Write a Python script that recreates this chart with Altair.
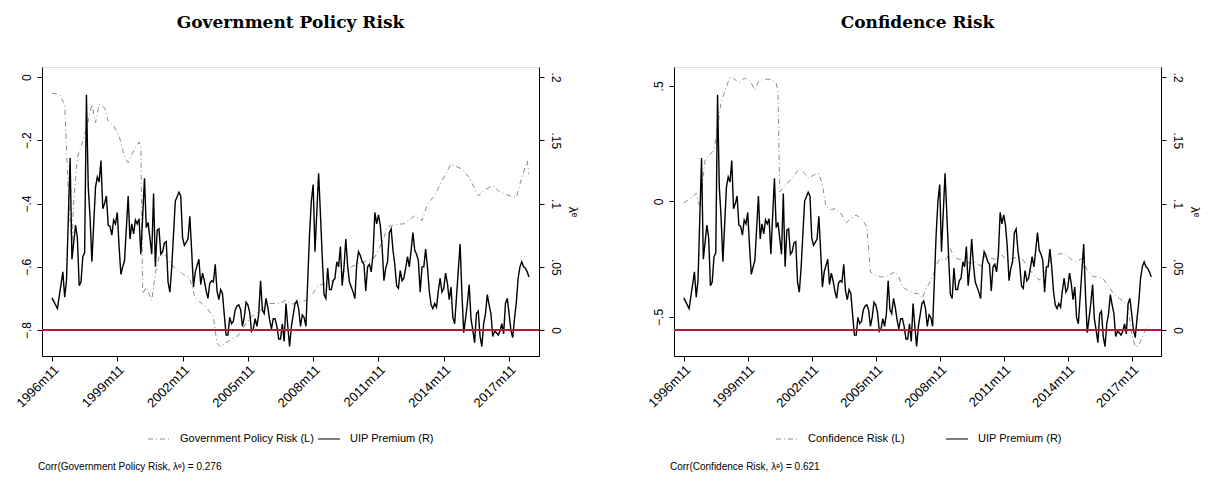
import altair as alt
import pandas as pd

# month offsets from 1996m11 and UIP premium (right axis)
uip_m = [0, 3, 6, 7, 8, 10, 11, 13, 14, 15, 16, 17, 18, 19, 20, 21, 22, 24, 25, 26, 27, 28, 29, 30,
         31, 32, 33, 34, 35, 36, 37, 38, 39, 40, 42, 43, 44, 45, 46, 47, 48, 49, 51, 52, 53, 55, 56,
         57, 58, 59, 60, 61, 62, 63, 64, 65, 66, 68, 70, 71, 72, 73, 75, 76, 77, 78, 79, 81, 82, 83,
         84, 85, 86, 87, 88, 89, 90, 91, 92, 93, 94, 95, 96, 97, 98, 99, 100, 101, 102, 103, 104,
         105, 106, 107, 108, 109, 110, 111, 112, 113, 114, 115, 116, 117, 118, 119, 120, 121, 122,
         123, 124, 125, 126, 127, 128, 129, 130, 131, 132, 133, 134, 135, 136, 137, 138, 139, 140,
         141, 142, 143, 144, 145, 147, 148, 149, 150, 151, 152, 153, 154, 155, 156, 157, 158, 159,
         160, 161, 162, 163, 164, 165, 166, 167, 168, 169, 170, 171, 172, 173, 174, 175, 176, 177,
         178, 179, 180, 181, 182, 183, 184, 185, 186, 187, 188, 189, 190, 191, 192, 193, 194, 195,
         196, 197, 198, 199, 200, 201, 202, 203, 204, 205, 206, 207, 208, 209, 210, 211, 212, 213,
         214, 215, 216, 217, 218, 219, 220, 221, 222, 223, 224, 225, 226, 227, 228, 229, 230, 231,
         232, 233, 234, 235, 236, 237, 238, 239, 240, 241, 242, 243, 244, 245, 246, 247, 248, 249,
         250, 251, 252, 253, 254, 255, 256, 257, 258, 259, 260, 261, 262, 263]
uip_v = [0.0255, 0.017, 0.046, 0.026, 0.039, 0.136, 0.056, 0.083, 0.073, 0.035, 0.038, 0.058, 0.061,
         0.186, 0.113, 0.089, 0.054, 0.113, 0.121, 0.117, 0.134, 0.096, 0.100, 0.106, 0.083, 0.082,
         0.075, 0.087, 0.084, 0.093, 0.066, 0.044, 0.050, 0.055, 0.106, 0.072, 0.084, 0.076, 0.087,
         0.084, 0.088, 0.060, 0.120, 0.081, 0.085, 0.060, 0.108, 0.050, 0.079, 0.080, 0.060, 0.062,
         0.069, 0.070, 0.038, 0.030, 0.049, 0.102, 0.109, 0.106, 0.073, 0.067, 0.072, 0.090, 0.063,
         0.034, 0.046, 0.056, 0.036, 0.045, 0.039, 0.031, 0.025, 0.037, 0.039, 0.038, 0.052, 0.031,
         0.024, 0.032, 0.029, 0.012, -0.004, -0.004, 0.010, 0.005, 0.007, 0.016, 0.019, 0.020, 0.016,
         0.003, 0.010, 0.022, 0.020, 0.014, -0.001, 0.001, 0.009, 0.003, 0.013, 0.039, 0.016, 0.013,
         0.025, 0.018, 0.008, 0.001, 0.009, 0.009, 0.003, -0.007, -0.007, 0.005, -0.009, 0.021,
         0.003, -0.013, 0.003, 0.012, 0.021, 0.023, 0.017, 0.003, 0.012, 0.010, 0.003, 0.039, 0.076,
         0.102, 0.115, 0.062, 0.124, 0.092, 0.058, 0.028, 0.025, 0.049, 0.032, 0.032, 0.039, 0.041,
         0.054, 0.050, 0.066, 0.035, 0.050, 0.072, 0.051, 0.038, 0.034, 0.030, 0.025, 0.052, 0.062,
         0.059, 0.054, 0.052, 0.031, 0.050, 0.052, 0.046, 0.060, 0.093, 0.084, 0.091, 0.083, 0.066,
         0.039, 0.049, 0.054, 0.077, 0.080, 0.063, 0.052, 0.035, 0.033, 0.047, 0.039, 0.041, 0.049,
         0.058, 0.050, 0.063, 0.077, 0.063, 0.060, 0.055, 0.030, 0.050, 0.050, 0.064, 0.050, 0.031,
         0.020, 0.017, 0.021, 0.018, 0.031, 0.041, 0.030, 0.033, 0.045, 0.037, 0.024, 0.034, 0.010,
         0.005, 0.026, 0.047, 0.068, 0.029, -0.002, 0.009, 0.021, 0.036, 0.009, 0.000, -0.010, 0.013,
         0.015, -0.005, -0.013, 0.005, 0.013, 0.028, 0.020, 0.013, -0.005, -0.001, -0.002, -0.004,
         -0.001, 0.005, -0.003, 0.021, 0.025, 0.013, 0.000, -0.006, 0.009, 0.022, 0.041, 0.050,
         0.054, 0.050, 0.049, 0.046, 0.042]

# Government Policy Risk (left axis, left panel)
gpr_m = [0, 4, 7, 9, 11, 12, 14, 17, 20, 22, 24, 26, 29, 31, 34, 37, 40, 42, 45, 48, 49, 50, 52, 55,
         57, 59, 62, 67, 72, 76, 79, 85, 89, 91, 93, 98, 103, 107, 110, 114, 120, 125, 129, 132,
         136, 140, 143, 147, 152, 158, 163, 169, 174, 178, 182, 185, 189, 194, 200, 204, 207, 211,
         215, 220, 226, 230, 235, 238, 243, 247, 252, 256, 258, 262, 263]
gpr_v = [-0.051, -0.055, -0.086, -0.37, -0.538, -0.39, -0.254, -0.202, -0.139, -0.086, -0.144,
         -0.086, -0.097, -0.139, -0.154, -0.186, -0.254, -0.27, -0.233, -0.205, -0.223, -0.685,
         -0.664, -0.706, -0.622, -0.569, -0.559, -0.60, -0.622, -0.637, -0.70, -0.727, -0.758,
         -0.842, -0.853, -0.832, -0.816, -0.779, -0.758, -0.742, -0.716, -0.716, -0.706, -0.718,
         -0.714, -0.706, -0.69, -0.658, -0.653, -0.632, -0.606, -0.59, -0.58, -0.569, -0.522,
         -0.475, -0.466, -0.464, -0.438, -0.454, -0.401, -0.375, -0.328, -0.275, -0.291, -0.317,
         -0.375, -0.359, -0.343, -0.364, -0.375, -0.38, -0.338, -0.265, -0.307]

# Confidence Risk (left axis, right panel)
cr_m = [0, 5, 7, 9, 12, 14, 17, 19, 21, 24, 26, 28, 31, 34, 37, 40, 42, 45, 49, 52, 53, 54, 57, 60,
        63, 65, 68, 70, 73, 76, 78, 80, 83, 86, 89, 91, 94, 97, 100, 103, 105, 108, 111, 114, 117,
        119, 121, 123, 126, 129, 132, 134, 136, 138, 140, 142, 144, 146, 148, 150, 152, 155, 158,
        161, 164, 167, 170, 173, 176, 179, 182, 185, 188, 191, 194, 197, 200, 203, 206, 209, 212,
        215, 218, 221, 224, 227, 230, 233, 236, 239, 242, 245, 248, 250, 252, 254, 256, 258, 260,
        262, 263]
cr_v = [-0.006, 0.02, 0.035, -0.023, 0.179, 0.2, 0.22, 0.32, 0.43, 0.497, 0.538, 0.533, 0.514, 0.533,
        0.526, 0.483, 0.519, 0.529, 0.529, 0.512, 0.475, 0.042, 0.071, 0.092, 0.121, 0.143, 0.121,
        0.10, 0.114, 0.121, 0.071, -0.023, -0.035, -0.03, -0.059, -0.095, -0.074, -0.059, -0.074,
        -0.11, -0.305, -0.319, -0.327, -0.324, -0.312, -0.305, -0.327, -0.37, -0.384, -0.396,
        -0.40, -0.42, -0.384, -0.355, -0.327, -0.276, -0.247, -0.254, -0.247, -0.204, -0.24,
        -0.251, -0.254, -0.269, -0.262, -0.28, -0.225, -0.247, -0.251, -0.233, -0.254, -0.247,
        -0.24, -0.254, -0.29, -0.319, -0.341, -0.312, -0.254, -0.233, -0.225, -0.23, -0.251,
        -0.262, -0.247, -0.298, -0.324, -0.329, -0.334, -0.37, -0.40, -0.42, -0.435, -0.457,
        -0.572, -0.63, -0.623, -0.587, -0.55, -0.536, -0.529]

x_ticks = [0, 36, 72, 108, 144, 180, 216, 252]

FONT = "Liberation Sans"
H = 289
GRAY = "#8c8c8c"
RED = "#c0123c"
LAMBDA_DOM = [-0.0205, 0.208]

uip_df = pd.DataFrame({"m": uip_m, "v": uip_v})
x_enc = alt.X(
    "m:Q", scale=alt.Scale(domain=[-5.5, 268.5], nice=False, zero=False), title=None,
    axis=alt.Axis(values=x_ticks, labelAngle=-45, labelAlign="right", labelBaseline="top",
                  labelFontSize=13, labelFont=FONT, labelColor="black", tickColor="black",
                  domainColor="black", tickSize=5, grid=False, labelPadding=2,
                  labelExpr="(1996 + floor((datum.value + 10) / 12)) + 'm' + ((datum.value + 10) % 12 + 1)"),
)
lab = "replace(format(datum.value, '.2~f'), '0.', '.')"


def panel(title, name, risk_m, risk_v, left_dom, left_ticks, corr, lx, width):
    risk_df = pd.DataFrame({"m": risk_m, "v": risk_v})
    risk = alt.Chart(risk_df).mark_line(color=GRAY, strokeWidth=1, strokeDash=[5, 3, 1, 3]).encode(
        x=x_enc,
        y=alt.Y("v:Q", scale=alt.Scale(domain=left_dom, nice=False, zero=False), title=None,
                axis=alt.Axis(orient="left", values=left_ticks, labelExpr=lab, labelAngle=-90,
                              labelAlign="center", labelBaseline="bottom", labelFontSize=12,
                              labelFont=FONT, labelColor="black", tickColor="black",
                              domainColor="black", tickSize=5, grid=False, labelPadding=4)),
    )
    right_y = alt.Y("v:Q", scale=alt.Scale(domain=LAMBDA_DOM, nice=False, zero=False),
                    title="λᵉ",
                    axis=alt.Axis(orient="right", values=[0, 0.05, 0.1, 0.15, 0.2], labelExpr=lab,
                                  labelAngle=90, labelAlign="center", labelBaseline="bottom",
                                  labelFontSize=12, labelFont=FONT, labelColor="black",
                                  tickColor="black", domainColor="black", tickSize=5, grid=False,
                                  labelPadding=4, titleFont=FONT, titleFontSize=12,
                                  titleFontWeight="normal", titleAngle=90, titlePadding=4))
    uip = alt.Chart(uip_df).mark_line(color="black", strokeWidth=1.4).encode(x=x_enc, y=right_y)
    zero = alt.Chart(pd.DataFrame({"v": [0]})).mark_rule(color=RED, strokeWidth=2).encode(
        y=alt.Y("v:Q", scale=alt.Scale(domain=LAMBDA_DOM, nice=False, zero=False), axis=None))
    # legend and note under the plot
    leg = pd.DataFrame({"x": [lx, lx + 170], "x2": [lx + 22, lx + 192], "t": [name + " (L)", "UIP Premium (R)"],
                        "d": ["risk", "uip"]})
    leg_lines = alt.Chart(leg).mark_rule(strokeWidth=1).encode(
        x=alt.X("x:Q", scale=None), x2="x2:Q", y=alt.value(372),
        color=alt.Color("d:N", scale=alt.Scale(domain=["risk", "uip"], range=[GRAY, "black"]), legend=None),
        strokeDash=alt.StrokeDash("d:N", scale=alt.Scale(domain=["risk", "uip"], range=[[5, 3, 1, 3], [1, 0]]), legend=None),
    )
    leg_text = alt.Chart(leg).mark_text(align="left", baseline="middle", font=FONT, fontSize=11, dx=10).encode(
        x=alt.X("x2:Q", scale=None), y=alt.value(372), text="t:N")
    note = alt.Chart(pd.DataFrame({"t": [corr]})).mark_text(
        align="left", baseline="middle", font=FONT, fontSize=10).encode(
        x=alt.value(-4), y=alt.value(400), text="t:N")
    return alt.layer(risk, uip, zero, leg_lines, leg_text, note).resolve_scale(y="independent").properties(
        width=width, height=H,
        title=alt.TitleParams(title, font="DejaVu Serif", fontSize=17, fontWeight="bold", offset=35, anchor="middle"),
    )


left = panel("Government Policy Risk", "Government Policy Risk", gpr_m, gpr_v, [-0.882, 0.032],
             [-0.8, -0.6, -0.4, -0.2, 0], "Corr(Government Policy Risk, λᵉ) = 0.276", 106, 497)
right = panel("Confidence Risk", "Confidence Risk", cr_m, cr_v, [-0.669, 0.582],
              [-0.5, 0, 0.5], "Corr(Confidence Risk, λᵉ) = 0.621", 102, 487)

chart = alt.hconcat(left, right, spacing=66).configure_view(stroke=None).configure(background="white")
chart.save("out.html", embed_options={"renderer": "svg", "actions": False})
